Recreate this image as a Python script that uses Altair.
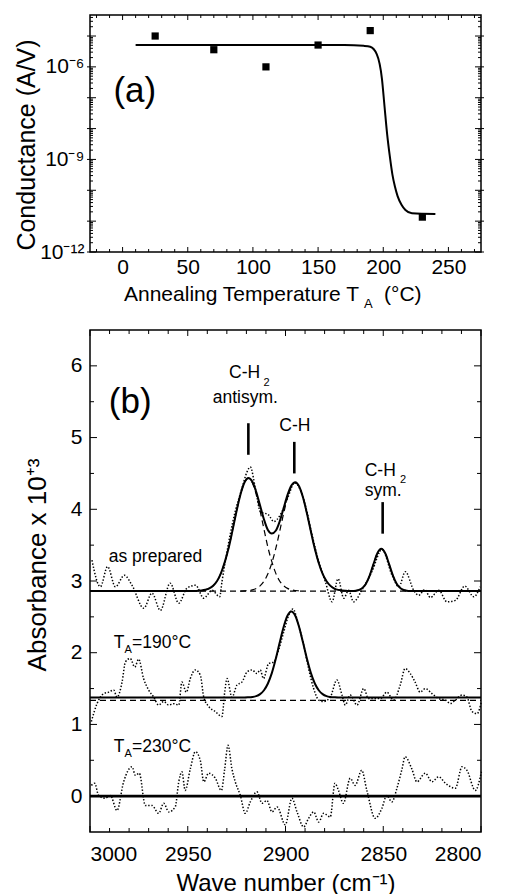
import altair as alt
import pandas as pd

FONT = "Liberation Sans"

# ---------------- Panel (a): conductance vs annealing temperature ----------------
temp_points = [25, 70, 110, 150, 190, 230]
cond_points = [1.0e-5, 3.6e-6, 1.0e-6, 5.1e-6, 1.5e-5, 1.35e-11]

fit_temp = [10, 170, 185, 190, 195, 199, 201, 203, 205, 207, 209, 211, 214, 217, 222, 240]
fit_cond = [5.1e-6, 5.1e-6, 4.8e-6, 4.5e-6, 2.6e-6, 4.1e-7, 5.1e-8, 6.5e-9, 1.3e-9,
            3.3e-10, 1.3e-10, 6.5e-11, 3.4e-11, 2.3e-11, 1.8e-11, 1.7e-11]

temp_labels = [0, 50, 100, 150, 200, 250]
cond_labels = [1e-12, 1e-9, 1e-6]
temp_ticks_major = [0, 50, 100, 150, 200, 250]
temp_ticks_minor = [-20, -10, 10, 20, 30, 40, 60, 70, 80, 90, 110, 120, 130, 140, 160, 170,
                    180, 190, 210, 220, 230, 240, 260, 270]
cond_ticks_major = [1e-12, 1e-11, 1e-10, 1e-9, 1e-8, 1e-7, 1e-6, 1e-5]
cond_ticks_minor = [m * 10.0 ** e for e in range(-12, -4) for m in range(2, 10) if m * 10.0 ** e < 4.8e-5]

# ---------------- Panel (b): IR absorbance spectra ----------------
# measured spectra (dotted)
ap_w = [2999, 2994.7, 2991, 2987, 2982.4, 2978.5, 2972.5, 2968.3, 2964, 2959, 2954.6, 2950.4,
        2946, 2941.8, 2937.6, 2933.7, 2932.5, 2930.8, 2928.2, 2925.7, 2922.3, 2919.7, 2918,
        2915.4, 2912.9, 2908.6, 2906, 2902.7, 2899, 2895.3, 2889.9, 2886.4, 2883, 2879.6,
        2876.2, 2873.1, 2870.2, 2867.7, 2865.2, 2861, 2855.8, 2850.6, 2845.5, 2842, 2838.7,
        2834.4, 2831.9, 2828.8, 2825.9, 2821.6, 2817.4, 2813.1, 2808.3, 2803.7, 2800.4]
ap_a = [3.29, 2.92, 3.20, 2.92, 3.08, 2.94, 2.62, 2.83, 2.59, 2.97, 2.69, 2.90, 2.94, 2.76,
        2.87, 2.78, 2.99, 3.27, 3.66, 3.97, 4.29, 4.52, 4.59, 4.29, 3.97, 3.92, 3.83, 3.92,
        4.15, 4.37, 4.06, 3.64, 3.27, 2.99, 2.71, 3.03, 2.76, 2.87, 2.71, 2.87, 3.13, 3.44,
        3.08, 2.92, 3.13, 2.87, 2.80, 2.88, 2.77, 2.87, 2.71, 2.73, 2.93, 2.78, 2.92]

t190_w = [2999.3, 2996.4, 2993, 2990.4, 2987.9, 2986.2, 2983.6, 2981.9, 2979.4, 2977.1, 2975.1,
          2972.6, 2970, 2967.4, 2964.9, 2962.3, 2959.7, 2957.2, 2954.6, 2953, 2950.7, 2948.7,
          2946.1, 2943.6, 2941.8, 2939.3, 2935.9, 2932.5, 2931.1, 2929.9, 2927.4, 2924.8,
          2922.3, 2919.7, 2917.1, 2914.6, 2912.9, 2911.3, 2908.6, 2906, 2903.5, 2900.9, 2898.4,
          2896.2, 2893.3, 2890.7, 2888.2, 2885.6, 2883, 2880.5, 2877.1, 2873.7, 2871.1, 2869.4,
          2866.9, 2863.4, 2860, 2857.5, 2854.9, 2851.5, 2848.2, 2844.7, 2841.3, 2838.8, 2836.2,
          2833.7, 2831.1, 2828.5, 2825.1, 2821.6, 2818.2, 2815.7, 2813.1, 2809.7, 2807.2,
          2804.6, 2802, 2799.8]
t190_a = [1.04, 1.29, 1.43, 1.45, 1.48, 1.38, 1.59, 1.87, 1.92, 1.80, 1.91, 1.64, 1.48, 1.38,
          1.27, 1.32, 1.27, 1.29, 1.27, 1.59, 1.45, 1.64, 1.76, 1.69, 1.38, 1.25, 1.18, 1.11,
          1.45, 1.64, 1.38, 1.55, 1.59, 1.73, 1.76, 1.71, 1.76, 1.64, 1.85, 1.87, 2.04, 2.29,
          2.52, 2.61, 2.38, 2.11, 1.78, 1.50, 1.34, 1.32, 1.38, 1.62, 1.41, 1.27, 1.41, 1.27,
          1.50, 1.36, 1.36, 1.36, 1.45, 1.34, 1.55, 1.78, 1.71, 1.59, 1.45, 1.50, 1.43, 1.36,
          1.34, 1.29, 1.34, 1.41, 1.38, 1.18, 1.15, 1.32]

t230_w = [2999.3, 2997.6, 2995.6, 2992.2, 2989.6, 2986.2, 2982.8, 2978.5, 2976.8, 2974.8,
          2971.7, 2968.3, 2964.9, 2962.3, 2959.7, 2956.4, 2954.6, 2953, 2951.3, 2948.7, 2946.1,
          2943.6, 2941.8, 2939.3, 2935.9, 2932.8, 2931.1, 2929.4, 2927.4, 2925.7, 2923.1,
          2920.6, 2918, 2914.6, 2912, 2909.5, 2906.9, 2904.3, 2900.1, 2896.7, 2894.1, 2890.7,
          2888.2, 2885.6, 2883, 2880.5, 2877.1, 2874.7, 2872.9, 2870.4, 2866.9, 2864.4, 2861,
          2858.4, 2854.1, 2850.7, 2848.2, 2845.6, 2843, 2840.4, 2838.8, 2835.4, 2832.8, 2828.5,
          2825.1, 2821.6, 2818.2, 2813.1, 2809.7, 2807.2, 2802.9, 2799.8]
t230_a = [0.15, 0.18, 0.01, -0.03, 0.01, -0.20, 0.20, 0.41, 0.29, 0.32, -0.13, -0.13, -0.24,
          -0.10, -0.22, -0.15, 0.20, 0.34, 0.08, 0.38, 0.62, 0.50, 0.20, 0.32, 0.25, 0.08,
          0.38, 0.71, 0.38, 0.20, 0.01, -0.24, -0.08, 0.06, -0.10, -0.06, -0.22, -0.15, -0.40,
          -0.03, -0.22, -0.43, -0.31, -0.22, -0.36, -0.24, -0.29, 0.18, 0.08, -0.10, 0.25,
          0.15, 0.36, 0.08, -0.31, -0.17, 0.01, -0.08, 0.11, 0.38, 0.55, 0.38, 0.20, 0.32,
          0.20, 0.27, 0.18, 0.11, 0.41, 0.36, 0.08, 0.34]

# fitted curves (solid): total fits
ap_fit_w = [3000, 2947, 2945, 2943, 2941, 2939, 2937, 2935, 2933, 2931, 2929, 2927, 2925, 2923,
            2921, 2919, 2917, 2915, 2913, 2911, 2909, 2907, 2905, 2903, 2901, 2899, 2897, 2895,
            2893, 2891, 2889, 2887, 2885, 2883, 2881, 2879, 2877, 2875, 2873, 2871, 2869, 2867,
            2865, 2863, 2861, 2859, 2857, 2855, 2853, 2851, 2849, 2847, 2845, 2843, 2841, 2839,
            2837, 2800]
ap_fit_a = [2.86, 2.86, 2.863, 2.867, 2.877, 2.897, 2.935, 3.00, 3.11, 3.27, 3.47, 3.72, 3.98,
            4.21, 4.373, 4.437, 4.386, 4.245, 4.052, 3.857, 3.71, 3.661, 3.70, 3.829, 4.012,
            4.197, 4.331, 4.377, 4.317, 4.16, 3.937, 3.689, 3.45, 3.251, 3.10, 2.997, 2.932,
            2.895, 2.876, 2.867, 2.863, 2.86, 2.86, 2.87, 2.895, 2.956, 3.073, 3.235, 3.387,
            3.45, 3.387, 3.235, 3.073, 2.956, 2.895, 2.87, 2.86, 2.86]

t190_fit_w = [3000, 2921, 2919, 2917, 2915, 2913, 2911, 2909, 2907, 2905, 2903, 2901, 2899,
              2897, 2895, 2893, 2891, 2889, 2887, 2885, 2883, 2881, 2879, 2877, 2875, 2873, 2800]
t190_fit_a = [1.375, 1.375, 1.378, 1.383, 1.395, 1.423, 1.477, 1.571, 1.715, 1.911, 2.138,
              2.356, 2.516, 2.575, 2.516, 2.356, 2.138, 1.911, 1.715, 1.571, 1.477, 1.423,
              1.395, 1.383, 1.378, 1.375, 1.375]

t230_fit_w = [3000, 2800]
t230_fit_a = [0.0, 0.0]

# fitted components (dashed)
comp1_w = [2947, 2945, 2943, 2941, 2939, 2937, 2935, 2933, 2931, 2929, 2927, 2925, 2923, 2921,
           2919, 2917, 2915, 2913, 2911, 2909, 2907, 2905, 2903, 2901, 2899, 2897, 2895, 2893, 2891]
comp1_a = [2.86, 2.863, 2.867, 2.877, 2.897, 2.935, 3.00, 3.11, 3.27, 3.47, 3.72, 3.98, 4.21,
           4.37, 4.43, 4.37, 4.21, 3.98, 3.72, 3.47, 3.27, 3.11, 3.00, 2.935, 2.897, 2.877,
           2.867, 2.863, 2.86]
comp2_w = [2923, 2921, 2919, 2917, 2915, 2913, 2911, 2909, 2907, 2905, 2903, 2901, 2899, 2897,
           2895, 2893, 2891, 2889, 2887, 2885, 2883, 2881, 2879, 2877, 2875, 2873, 2871, 2869, 2867]
comp2_a = [2.86, 2.863, 2.867, 2.876, 2.895, 2.932, 2.997, 3.10, 3.251, 3.45, 3.689, 3.937,
           4.16, 4.314, 4.37, 4.314, 4.16, 3.937, 3.689, 3.45, 3.251, 3.10, 2.997, 2.932,
           2.895, 2.876, 2.867, 2.863, 2.86]
comp3_w = [2865, 2863, 2861, 2859, 2857, 2855, 2853, 2851, 2849, 2847, 2845, 2843, 2841, 2839, 2837]
comp3_a = [2.86, 2.87, 2.895, 2.956, 3.073, 3.235, 3.387, 3.45, 3.387, 3.235, 3.073, 2.956,
           2.895, 2.87, 2.86]
base_w = [3000, 2800]
base_ap = [2.86, 2.86]
base_190 = [1.335, 1.335]
base_230 = [0.0, 0.0]

# peak markers
marker_w = [2919, 2895.5, 2850.3]
marker_lo = [4.76, 4.50, 3.66]
marker_hi = [5.20, 4.94, 4.10]

# annotations
ann_text = ["(b)", "C-H", "2", "antisym.", "C-H", "C-H", "2", "sym.", "as prepared",
            "T", "A", "=190°C", "T", "A", "=230°C"]
ann_w = [2990.4, 2928.9, 2911.2, 2937.2, 2903.2, 2859.5, 2841.4, 2859.5, 2990.4,
         2987.9, 2982.4, 2978.5, 2987.9, 2982.4, 2978.5]
ann_a = [5.34, 5.83, 5.72, 5.48, 5.09, 4.47, 4.37, 4.19, 3.27,
         2.06, 1.99, 2.06, 0.62, 0.55, 0.62]
ann_fs = [35, 17.5, 11, 17.5, 17.5, 17.5, 11, 17.5, 17.5, 17.5, 11, 17.5, 17.5, 11, 17.5]

wn_labels = [3000, 2950, 2900, 2850, 2800]
abs_labels = [0, 1, 2, 3, 4, 5, 6]
wn_ticks_major = [3000, 2950, 2900, 2850, 2800]
wn_ticks_minor = [2990, 2980, 2970, 2960, 2940, 2930, 2920, 2910, 2890, 2880, 2870, 2860,
                  2840, 2830, 2820, 2810]
abs_ticks_major = [0, 1, 2, 3, 4, 5, 6]
abs_ticks_minor = [0.5, 1.5, 2.5, 3.5, 4.5, 5.5]

# ---------------- layout constants ----------------
W = 391
HA = 237
HB = 502
one = pd.DataFrame({"k": [0]})


def x_ticks(vals, field, length, H):
    df = pd.DataFrame({field: vals})
    base = alt.Chart(df).mark_rule(color="black", strokeWidth=1)
    return (base.encode(x=alt.X(f"{field}:Q"), y=alt.value(H), y2=alt.value(H - length))
            + base.encode(x=alt.X(f"{field}:Q"), y=alt.value(0), y2=alt.value(length)))


def y_ticks(vals, field, length, Wd, out=0):
    df = pd.DataFrame({field: vals})
    base = alt.Chart(df).mark_rule(color="black", strokeWidth=1)
    return (base.encode(y=alt.Y(f"{field}:Q"), x=alt.value(-out), x2=alt.value(length))
            + base.encode(y=alt.Y(f"{field}:Q"), x=alt.value(Wd + out), x2=alt.value(Wd - length)))


# ---- panel (a)
xa = alt.X("T:Q",
           scale=alt.Scale(domain=[-25, 275], nice=False, zero=False),
           axis=alt.Axis(values=temp_labels, format="d", title=None, ticks=False, domain=False,
                         grid=False, labelFontSize=21, labelPadding=4, labelColor="black",
                         labelFont=FONT))
ya = alt.Y("G:Q",
           scale=alt.Scale(type="log", domain=[1e-12, 4.8e-5], nice=False),
           axis=alt.Axis(values=cond_labels,
                         labelExpr="datum.value < 1e-10 ? '10⁻¹²' : (datum.value < 1e-7 ? '10⁻⁹' : '10⁻⁶')",
                         title="Conductance (A/V)", titleFontSize=25, titleFontWeight="normal",
                         titleFont=FONT, titleColor="black",
                         titleAngle=270, titleAlign="center", titleBaseline="middle",
                         titleX=-64, titleY=129.5,
                         ticks=False, domain=False, grid=False, labelFontSize=21,
                         labelPadding=6, labelColor="black", labelFont=FONT))

pts = pd.DataFrame({"T": temp_points, "G": cond_points})
fit = pd.DataFrame({"T": fit_temp, "G": fit_cond})

fit_line = alt.Chart(fit).mark_line(color="black", strokeWidth=2, interpolate="monotone").encode(x=xa, y=ya)
squares = alt.Chart(pts).mark_square(size=52, color="black", opacity=1).encode(x=alt.X("T:Q"), y=alt.Y("G:Q"))
label_a = alt.Chart(pd.DataFrame({"T": [-7], "G": [7.4e-8], "t": ["(a)"]})).mark_text(
    align="left", baseline="alphabetic", fontSize=35, font=FONT, color="black"
).encode(x=alt.X("T:Q"), y=alt.Y("G:Q"), text="t:N")

title_a1 = alt.Chart(one).mark_text(align="left", baseline="alphabetic", fontSize=21, font=FONT,
                                    color="black").encode(
    x=alt.value(34), y=alt.value(286), text=alt.value("Annealing Temperature T"))
title_a2 = alt.Chart(one).mark_text(align="left", baseline="alphabetic", fontSize=13, font=FONT,
                                    color="black").encode(
    x=alt.value(274), y=alt.value(293), text=alt.value("A"))
title_a3 = alt.Chart(one).mark_text(align="left", baseline="alphabetic", fontSize=21, font=FONT,
                                    color="black").encode(
    x=alt.value(294), y=alt.value(286), text=alt.value("(°C)"))

panel_a = alt.layer(
    fit_line, squares, label_a,
    x_ticks(temp_ticks_major, "T", 5, HA), x_ticks(temp_ticks_minor, "T", 3, HA),
    y_ticks(cond_ticks_major, "G", 6, W, out=3), y_ticks(cond_ticks_minor, "G", 3, W),
    title_a1, title_a2, title_a3,
).properties(width=W, height=HA)

# ---- panel (b)
xb = alt.X("w:Q",
           scale=alt.Scale(domain=[2800, 3000], reverse=True, nice=False, zero=False),
           axis=alt.Axis(values=wn_labels, format="d", title="Wave number (cm⁻¹)",
                         titleFontSize=24, titleFontWeight="normal", titleFont=FONT,
                         titleColor="black", titleBaseline="alphabetic", titleY=58,
                         ticks=False, domain=False, grid=False, labelFontSize=21,
                         labelPadding=11, labelColor="black", labelFont=FONT))
yb = alt.Y("A:Q",
           scale=alt.Scale(domain=[-0.5, 6.5], nice=False, zero=False),
           axis=alt.Axis(values=abs_labels, format="d", title="Absorbance x 10⁺³", titleFontSize=26,
                         titleFontWeight="normal", titleFont=FONT, titleColor="black",
                         titleAngle=270, titleAlign="center", titleBaseline="middle",
                         titleX=-53, titleY=234.5,
                         ticks=False, domain=False, grid=False, labelFontSize=21,
                         labelPadding=8, labelColor="black", labelFont=FONT))

spectra = pd.concat([
    pd.DataFrame({"w": ap_w, "A": ap_a, "s": "as prepared"}),
    pd.DataFrame({"w": t190_w, "A": t190_a, "s": "190"}),
    pd.DataFrame({"w": t230_w, "A": t230_a, "s": "230"}),
])
fits = pd.concat([
    pd.DataFrame({"w": ap_fit_w, "A": ap_fit_a, "s": "ap"}),
    pd.DataFrame({"w": t190_fit_w, "A": t190_fit_a, "s": "190"}),
])
fit230 = pd.DataFrame({"w": t230_fit_w, "A": t230_fit_a, "s": "230"})
comps = pd.concat([
    pd.DataFrame({"w": comp1_w, "A": comp1_a, "s": "c1"}),
    pd.DataFrame({"w": comp2_w, "A": comp2_a, "s": "c2"}),
    pd.DataFrame({"w": comp3_w, "A": comp3_a, "s": "c3"}),
    pd.DataFrame({"w": base_w, "A": base_ap, "s": "b1"}),
    pd.DataFrame({"w": base_w, "A": base_190, "s": "b2"}),
    pd.DataFrame({"w": base_w, "A": base_230, "s": "b3"}),
])
markers = pd.DataFrame({"w": marker_w, "A": marker_lo, "A2": marker_hi})
ann = pd.DataFrame({"w": ann_w, "A": ann_a, "t": ann_text, "fs": ann_fs})

spec_line = alt.Chart(spectra).mark_line(
    color="black", strokeWidth=1.5, strokeDash=[1.4, 1.8], interpolate="monotone"
).encode(x=xb, y=yb, detail="s:N")
dash_line = alt.Chart(comps).mark_line(
    color="black", strokeWidth=1.2, strokeDash=[6, 4], interpolate="monotone"
).encode(x=alt.X("w:Q"), y=alt.Y("A:Q"), detail="s:N")
fit_lines = alt.Chart(fits).mark_line(color="black", strokeWidth=2, interpolate="monotone").encode(
    x=alt.X("w:Q"), y=alt.Y("A:Q"), detail="s:N")
fit_zero = alt.Chart(fit230).mark_line(color="black", strokeWidth=2.6).encode(
    x=alt.X("w:Q"), y=alt.Y("A:Q"))
marker_rules = alt.Chart(markers).mark_rule(color="black", strokeWidth=2.6).encode(
    x=alt.X("w:Q"), y=alt.Y("A:Q"), y2="A2:Q")
ann_text_layer = alt.Chart(ann).mark_text(align="left", baseline="alphabetic", font=FONT,
                                          color="black").encode(
    x=alt.X("w:Q"), y=alt.Y("A:Q"), text="t:N",
    size=alt.Size("fs:Q", scale=None, legend=None))

panel_b = alt.layer(
    spec_line, dash_line, fit_lines, fit_zero, marker_rules, ann_text_layer,
    x_ticks(wn_ticks_major, "w", 6, HB), x_ticks(wn_ticks_minor, "w", 4, HB),
    y_ticks(abs_ticks_major, "A", 7, W), y_ticks(abs_ticks_minor, "A", 4, W),
).properties(width=W, height=HB)

chart = alt.vconcat(panel_a, panel_b, spacing=16).properties(
    padding={"left": 5, "top": 5, "right": 5, "bottom": 0}
).configure(font=FONT).configure_view(stroke="black", strokeWidth=1.5)

chart.save("out.html", embed_options={"renderer": "svg", "actions": False})
